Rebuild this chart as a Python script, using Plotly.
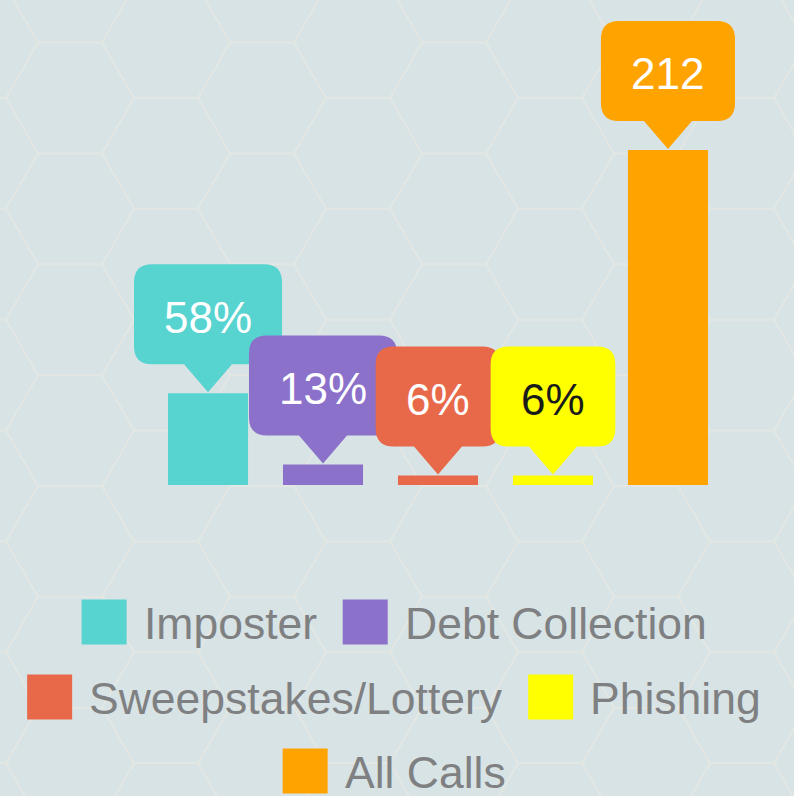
import math
import plotly.graph_objects as go

# ---- data ----
categories = ["Imposter", "Debt Collection", "Sweepstakes/Lottery", "Phishing", "All Calls"]
values = [58, 13, 6, 6, 212]
value_labels = ["58%", "13%", "6%", "6%", "212"]
colors = ["#57D3D0", "#8B71C9", "#E8694A", "#FFFF00", "#FFA300"]
label_colors = ["#FFFFFF", "#FFFFFF", "#FFFFFF", "#1A1A1A", "#FFFFFF"]

# ---- style ----
W, H = 794, 796
BG = "#D8E3E5"
HEX_LINE = "#E3E7E3"
FONT = "Liberation Sans, Arial, sans-serif"
LEG_COLOR = "#7F8082"
LEG_SIZE = 44.5
CALL_SIZE = 44

# Arial / Liberation Sans advance widths (per em)
CW = {" ": .278, "/": .278, "%": .889, "A": .667, "C": .722, "D": .722, "I": .278,
      "L": .556, "P": .667, "S": .667, "a": .556, "b": .556, "c": .5, "e": .556,
      "g": .556, "h": .556, "i": .222, "k": .5, "l": .222, "m": .833, "n": .556,
      "o": .556, "p": .556, "r": .333, "s": .5, "t": .278, "w": .722, "y": .5}


def text_w(t, size):
    return sum(CW.get(c, .556) for c in t) * size


fig = go.Figure(go.Bar(
    x=categories, y=values,
    marker=dict(color=colors, line=dict(width=0)),
    showlegend=False, hoverinfo="x+y",
))

shapes = []

# ---- hexagon background pattern (paper coords, full-figure plot area) ----
s = 64
hh = s * math.sqrt(3) / 2
segs = []
for k in range(-1, 10):
    cx = 70 + 1.5 * s * k
    off = hh if k % 2 else 0
    for j in range(-2, 9):
        cy = 98 + 2 * hh * j + off
        pts = [(cx + s * math.cos(math.pi / 3 * m), cy + s * math.sin(math.pi / 3 * m)) for m in range(6)]
        segs.append("M" + "L".join(f"{x / W:.5f},{1 - y / H:.5f}" for x, y in pts) + "Z")
shapes.append(dict(type="path", xref="paper", yref="paper", path="".join(segs),
                   line=dict(color=HEX_LINE, width=2), layer="below"))

# ---- callouts (pixel-sized, anchored on each bar top) ----
TIP, PT, BOX_H, R, PB = 1, 28, 100, 18, 24
annotations = []
for cat, val, lab, col, lcol in zip(categories, values, value_labels, colors, label_colors):
    a = (text_w(lab, 42) + 64) / 2
    b = TIP + PT
    t = b + BOX_H
    path = (f"M0,{TIP} L{PB},{b} L{a - R},{b} Q{a},{b} {a},{b + R} L{a},{t - R} "
            f"Q{a},{t} {a - R},{t} L{-a + R},{t} Q{-a},{t} {-a},{t - R} L{-a},{b + R} "
            f"Q{-a},{b} {-a + R},{b} L{-PB},{b} Z")
    shapes.append(dict(type="path", xref="x", yref="y", xsizemode="pixel", ysizemode="pixel",
                       xanchor=cat, yanchor=val, path=path,
                       fillcolor=col, line=dict(width=0), layer="above"))
    annotations.append(dict(x=cat, y=val, xref="x", yref="y", text=lab, showarrow=False,
                            yshift=b + BOX_H / 2 - 3, xanchor="center", yanchor="middle",
                            font=dict(family=FONT, size=CALL_SIZE, color=lcol)))

# ---- custom legend ----
SQ, GAP_T, GAP_I, MAXW = 45, 15, 28, 775
ROW_Y = [622, 697, 771]
items = [(c, col, SQ + GAP_T + text_w(c, LEG_SIZE)) for c, col in zip(categories, colors)]
rows, cur, cw = [], [], 0
for it in items:
    add = it[2] + (GAP_I if cur else 0)
    if cur and cw + add > MAXW:
        rows.append(cur)
        cur, cw = [], 0
        add = it[2]
    cur.append(it)
    cw += add
rows.append(cur)

for ri, row in enumerate(rows):
    total = sum(it[2] for it in row) + GAP_I * (len(row) - 1)
    x = W / 2 - total / 2 - 4
    yc = ROW_Y[ri]
    for name, col, wdt in row:
        shapes.append(dict(type="rect", xref="paper", yref="paper",
                           x0=x / W, x1=(x + SQ) / W, y0=1 - (yc + SQ / 2) / H, y1=1 - (yc - SQ / 2) / H,
                           fillcolor=col, line=dict(width=0), layer="above"))
        annotations.append(dict(x=(x + SQ + GAP_T) / W, y=1 - (yc + 1) / H, xref="paper", yref="paper",
                                text=name, showarrow=False, xanchor="left", yanchor="middle",
                                font=dict(family=FONT, size=LEG_SIZE, color=LEG_COLOR)))
        x += wdt + GAP_I

# axis ranges so bars land where the reference has them
fig.update_layout(
    width=W, height=H,
    margin=dict(l=0, r=0, t=0, b=0),
    paper_bgcolor=BG, plot_bgcolor="rgba(0,0,0,0)",
    bargap=0.304,
    xaxis=dict(range=[-1.809, 5.096], visible=False, fixedrange=True),
    yaxis=dict(range=[-196.8, 306.9], visible=False, fixedrange=True),
    shapes=shapes, annotations=annotations,
    showlegend=False,
    font=dict(family=FONT),
)

fig.write_html("out.html", config={"displayModeBar": False},
               post_script="document.body.style.margin='0';document.body.style.overflow='hidden';")
